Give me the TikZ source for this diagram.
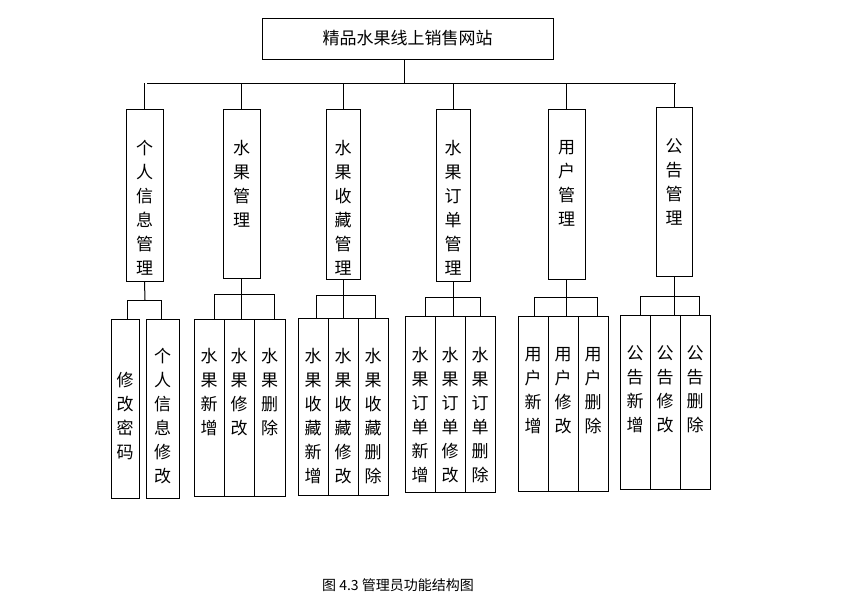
\documentclass[tikz,border=0pt]{standalone}
\usepackage{fontspec}
\setmainfont{Noto Sans CJK SC}
\begin{document}
\begin{tikzpicture}[x=1pt,y=-1pt,line width=1pt,
  bx/.style={draw,inner sep=0pt},
  vt/.style={anchor=north,align=center,inner sep=0pt,font=\fontsize{17}{24}\selectfont}]
\useasboundingbox (0,0) rectangle (844,611);
\newcommand\mkbox[7]{%
  \node[bx,minimum width=#4pt-#2pt,minimum height=#5pt-#3pt] (#1) at ({(#2+#4)/2},{(#3+#5)/2}) {};
  \node[vt] (#1t) at ({(#2+#4)/2},#6) {#7};}
\node[draw,minimum width=291pt,minimum height=41pt,font=\fontsize{17}{20}\selectfont] (top) at (407.5,38.5) {精品水果线上销售网站};
\coordinate (tb) at (404,83);
\draw (top.south -| tb) -- (tb);
\draw (147,83) -- (676,83);
\mkbox{a}{126}{109}{163}{281}{140}{个\\人\\信\\息\\管\\理}
\mkbox{b}{223}{109}{260}{278}{140}{水\\果\\管\\理}
\mkbox{c}{326}{109}{360}{279}{140}{水\\果\\收\\藏\\管\\理}
\mkbox{d}{436}{109}{470}{281}{140}{水\\果\\订\\单\\管\\理}
\mkbox{e}{548}{109}{585}{279}{140}{用\\户\\管\\理}
\mkbox{f}{656}{107}{692}{276}{138}{公\\告\\管\\理}
\foreach \n in {a,b,c,d,e,f} \draw (\n.north) -- (\n.north |- tb);
% group 1
\mkbox{a1}{111}{319}{139}{498}{372}{修\\改\\密\\码}
\mkbox{a2}{146}{319}{179}{498}{348}{个\\人\\信\\息\\修\\改}
\draw (a.south) -- (145,300); \draw (127,300) -- (161,300);
\draw (127,300) -- (127,319); \draw (161,300) -- (161,319);
% group 2
\mkbox{b1}{194}{319}{224}{496}{348}{水\\果\\新\\增}
\mkbox{b2}{224}{319}{254}{496}{348}{水\\果\\修\\改}
\mkbox{b3}{254}{319}{285}{496}{348}{水\\果\\删\\除}
\draw (b.south) -- (b2.north -| b.south); \draw (214,294) -- (274,294);
\draw (214,294) -- (214,319); \draw (274,294) -- (274,319);
% group 3
\mkbox{c1}{298}{318}{328}{495}{348}{水\\果\\收\\藏\\新\\增}
\mkbox{c2}{328}{318}{358}{495}{348}{水\\果\\收\\藏\\修\\改}
\mkbox{c3}{358}{318}{388}{495}{348}{水\\果\\收\\藏\\删\\除}
\draw (c.south) -- (c2.north -| c.south); \draw (316,295) -- (375,295);
\draw (316,295) -- (316,318); \draw (375,295) -- (375,318);
% group 4
\mkbox{d1}{405}{316}{435}{492}{347}{水\\果\\订\\单\\新\\增}
\mkbox{d2}{435}{316}{465}{492}{347}{水\\果\\订\\单\\修\\改}
\mkbox{d3}{465}{316}{495}{492}{347}{水\\果\\订\\单\\删\\除}
\draw (d.south) -- (d2.north -| d.south); \draw (425,297) -- (480,297);
\draw (425,297) -- (425,316); \draw (480,297) -- (480,316);
% group 5
\mkbox{e1}{518}{316}{548}{491}{347}{用\\户\\新\\增}
\mkbox{e2}{548}{316}{578}{491}{347}{用\\户\\修\\改}
\mkbox{e3}{578}{316}{608}{491}{347}{用\\户\\删\\除}
\draw (e.south) -- (e2.north -| e.south); \draw (534,297) -- (597,297);
\draw (534,297) -- (534,316); \draw (597,297) -- (597,316);
% group 6
\mkbox{f1}{620}{315}{650}{489}{345}{公\\告\\新\\增}
\mkbox{f2}{650}{315}{680}{489}{345}{公\\告\\修\\改}
\mkbox{f3}{680}{315}{710}{489}{345}{公\\告\\删\\除}
\draw (f.south) -- (f2.north -| f.south); \draw (640,296) -- (699,296);
\draw (640,296) -- (640,315); \draw (699,296) -- (699,315);
\node[font=\fontsize{14}{16}\selectfont] (cap) at (398,585) {图 4.3 管理员功能结构图};
\end{tikzpicture}
\end{document}
